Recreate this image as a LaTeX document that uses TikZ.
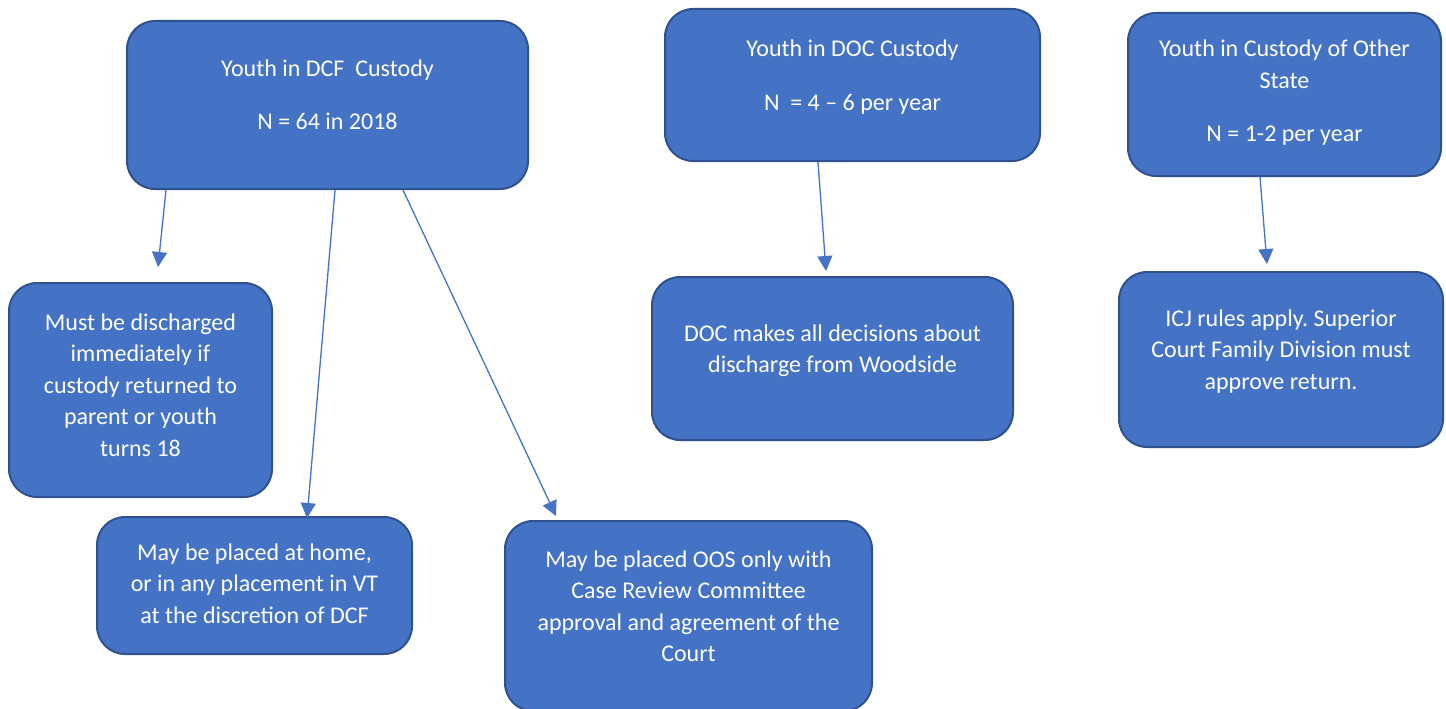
\documentclass[tikz,border=0pt]{standalone}
\usepackage{fontspec}
\setmainfont{Carlito}
\usetikzlibrary{arrows.meta,calc}
\definecolor{boxfill}{HTML}{4472C4}
\definecolor{boxline}{HTML}{2F528F}
\frenchspacing
\tikzset{
  box/.style={draw=boxline, line width=2pt, fill=boxfill, rounded corners=28pt, inner sep=0pt},
  txt/.style={text=white, align=center, inner sep=0pt,
    font=\fontsize{24}{31.5}\selectfont},
  arr/.style={draw=boxfill, line width=1.3pt, -{Triangle[length=15pt,width=15pt]}}
}
\begin{document}
\begin{tikzpicture}[x=1pt,y=-1pt]
\useasboundingbox (0,0) rectangle (1446,709);
% boxes
\node[box, minimum width=401pt, minimum height=168pt] (dcf) at (327.5,105) {};
\node[box, minimum width=375pt, minimum height=152pt] (doc) at (852.5,85) {};
\node[box, minimum width=313pt, minimum height=163pt] (oth) at (1284.5,94.5) {};
\node[box, minimum width=263pt, minimum height=214pt] (dis) at (140.5,390) {};
\node[box, minimum width=315pt, minimum height=137pt] (home) at (254.5,585.5) {};
\node[box, minimum width=367pt, minimum height=190pt] (oos) at (688.5,616) {};
\node[box, minimum width=361pt, minimum height=163pt] (dmk) at (832.5,358.5) {};
\node[box, minimum width=324pt, minimum height=175pt] (icj) at (1281,359.5) {};
% texts
\node[txt] (dcft) at ($(dcf.center)+(0,-10)$) {Youth in DCF\ \ Custody\\[21.5pt]N = 64 in 2018};
\node[txt] (doct) at ($(doc.center)+(0,-8)$) {Youth in DOC Custody\\[22.5pt]N\ \ = 4 -- 6 per year};
\node[txt] (otht) at ($(oth.center)+(0,-2)$) {Youth in Custody of Other\\State\\[21.5pt]N = 1-2 per year};
\node[txt] (dist) at ($(dis.center)+(0,-5)$) {Must be discharged\\immediately if\\custody returned to\\parent or youth\\turns 18};
\node[txt] (homet) at ($(home.center)+(0,-2)$) {May be placed at home,\\or in any placement in VT\\at the discretion of DCF};
\node[txt] (oost) at ($(oos.center)+(0,-10)$) {May be placed OOS only with\\Case Review Committee\\approval and agreement of the\\Court};
\node[txt] (dmkt) at ($(dmk.center)+(0,-8)$) {DOC makes all decisions about\\discharge from Woodside};
\node[txt] (icjt) at ($(icj.center)+(0,-8)$) {ICJ rules apply. Superior\\Court Family Division must\\approve return.};
% connectors
\coordinate (a1s) at ($(dcf.south west)+(40,0)$);
\coordinate (a1e) at ($(dis.north west)+(150,-15)$);
\coordinate (a2s) at ($(dcf.south west)+(209,0)$);
\coordinate (a2e) at ($(home.north west)+(211,2)$);
\coordinate (a3s) at ($(dcf.south west)+(277,0)$);
\coordinate (a3e) at ($(oos.north west)+(52,-4)$);
\coordinate (a4s) at ($(doc.south west)+(154,0)$);
\coordinate (a4e) at ($(dmk.north west)+(175,-5)$);
\coordinate (a5s) at ($(oth.south west)+(133,0)$);
\coordinate (a5e) at ($(icj.north west)+(149,-7)$);
\draw[arr] (a1s) -- (a1e);
\draw[arr] (a2s) -- (a2e);
\draw[arr] (a3s) -- (a3e);
\draw[arr] (a4s) -- (a4e);
\draw[arr] (a5s) -- (a5e);
\end{tikzpicture}
\end{document}
